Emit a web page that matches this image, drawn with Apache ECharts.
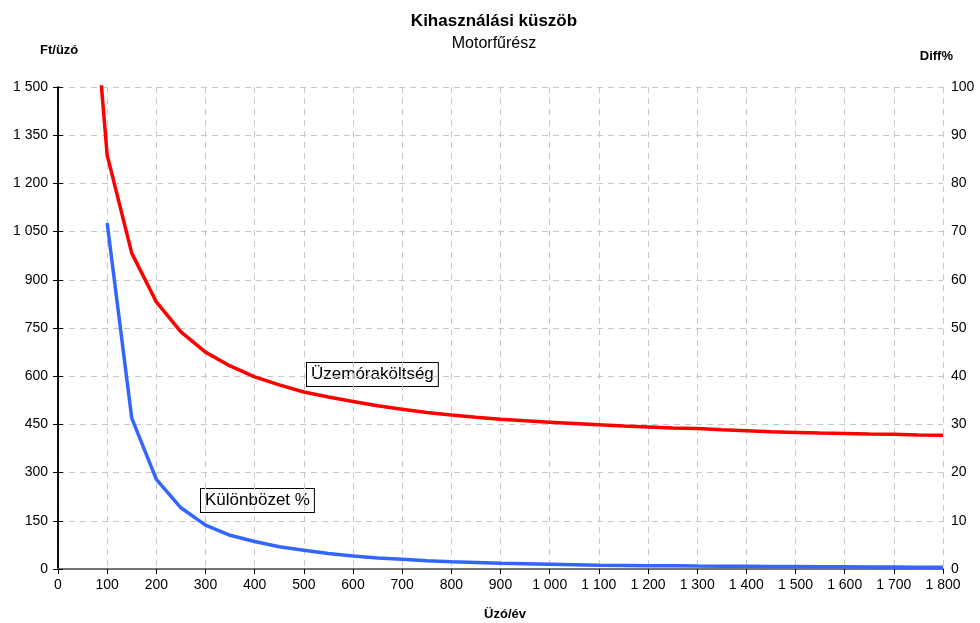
<!DOCTYPE html>
<html>
<head>
<meta charset="utf-8">
<script src="https://cdn.jsdelivr.net/npm/echarts@6/dist/echarts.min.js"></script>
<style>html,body{margin:0;padding:0;background:#fff}#c{width:980px;height:623px}</style>
</head>
<body>
<div id="c"></div>
<script>
const xValues = [50,100,150,200,250,300,350,400,450,500,550,600,650,700,750,800,850,900,950,1000,1050,1100,1150,1200,1250,1300,1350,1400,1450,1500,1550,1600,1650,1700,1750,1800];
const costValues = [2210,1288,983,831,738,675,632,598,573,551,535,521,508,497,487,479,472,466,461,457,453,449,445,442,439,437,433,430,427,425,423,422,420,419,417,416];
const diffX = [100,150,200,250,300,350,400,450,500,550,600,650,700,750,800,850,900,950,1000,1050,1100,1150,1200,1250,1300,1350,1400,1450,1500,1550,1600,1650,1700,1750,1800];
const diffValues = [71.8,31.3,18.6,12.7,9.1,7.0,5.7,4.6,3.9,3.2,2.7,2.3,2.0,1.7,1.5,1.35,1.2,1.1,1.0,0.9,0.8,0.75,0.7,0.65,0.6,0.57,0.55,0.52,0.5,0.47,0.45,0.42,0.4,0.38,0.35];
const titleText = 'Kihasználási küszöb';
const subtitleText = 'Motorfűrész';
const leftName = 'Ft/üzó';
const rightName = 'Diff%';
const xName = 'Üzó/év';
const costLabel = 'Üzemóraköltség';
const diffLabel = 'Különbözet %';

const FONT = '"Liberation Sans", Arial, sans-serif';
function fmt(v){ return String(v).replace(/\B(?=(\d{3})+(?!\d))/g,' '); }
const costData = xValues.map((x,i)=>[x,costValues[i]]);
const diffData = diffX.map((x,i)=>[x,diffValues[i]]);

const chart = echarts.init(document.getElementById('c'));
const gridLine = {show:true,lineStyle:{color:'#c8c8c8',type:[6,5],width:1}};
chart.setOption({
  animation:false,
  textStyle:{fontFamily:FONT},
  grid:{left:58,right:37,top:87,bottom:54},
  xAxis:[{type:'value',min:0,max:1800,interval:100,
    axisLine:{show:true,onZero:false,lineStyle:{color:'#000',width:1.5}},
    axisTick:{show:true,length:5,lineStyle:{color:'#000'}},
    axisLabel:{formatter:fmt,color:'#000',fontSize:14,margin:9},
    splitLine:gridLine},
   {type:'value',position:'top',min:0,max:1800,interval:100,
    axisLine:{show:true,lineStyle:{color:'#888',width:1.5}},
    axisTick:{show:false},axisLabel:{show:false},splitLine:{show:false}}],
  yAxis:[{type:'value',min:0,max:1500,interval:150,position:'left',
    axisLine:{show:true,lineStyle:{color:'#000',width:1.5}},
    axisTick:{show:true,length:5,lineStyle:{color:'#000'}},
    axisLabel:{formatter:fmt,color:'#000',fontSize:14,margin:10},
    splitLine:gridLine},
   {type:'value',min:0,max:100,interval:10,position:'right',
    axisLine:{show:true,lineStyle:{color:'#000',width:1.5}},
    axisTick:{show:true,length:5,lineStyle:{color:'#000'}},
    axisLabel:{color:'#000',fontSize:14,margin:8},
    splitLine:{show:false}}],
  series:[
    {type:'line',name:costLabel,data:costData,xAxisIndex:0,yAxisIndex:0,showSymbol:false,clip:true,
     lineStyle:{color:'#ff0000',width:3.5},itemStyle:{color:'#ff0000'}},
    {type:'line',name:diffLabel,data:diffData,xAxisIndex:0,yAxisIndex:1,showSymbol:false,clip:true,
     lineStyle:{color:'#3366ff',width:3.5},itemStyle:{color:'#3366ff'}}
  ],
  graphic:[
    {type:'text',x:494,y:21,style:{text:titleText,font:'bold 17px '+FONT,fill:'#000',align:'center',verticalAlign:'middle'}},
    {type:'text',x:494,y:44,style:{text:subtitleText,font:'16px '+FONT,fill:'#000',align:'center',verticalAlign:'middle'}},
    {type:'text',x:40,y:50,style:{text:leftName,font:'bold 13px '+FONT,fill:'#000',align:'left',verticalAlign:'middle'}},
    {type:'text',x:953,y:56,style:{text:rightName,font:'bold 13px '+FONT,fill:'#000',align:'right',verticalAlign:'middle'}},
    {type:'text',x:505,y:614,style:{text:xName,font:'bold 13px '+FONT,fill:'#000',align:'center',verticalAlign:'middle'}},
    {type:'text',left:306,top:362,style:{text:costLabel,font:'17px '+FONT,fill:'#000',
      backgroundColor:'#fff',borderColor:'#000',borderWidth:1,padding:[3,4,3,4]}},
    {type:'text',left:200,top:488,style:{text:diffLabel,font:'17px '+FONT,fill:'#000',
      backgroundColor:'#fff',borderColor:'#000',borderWidth:1,padding:[3,4,3,4]}}
  ]
});
</script>
</body>
</html>
